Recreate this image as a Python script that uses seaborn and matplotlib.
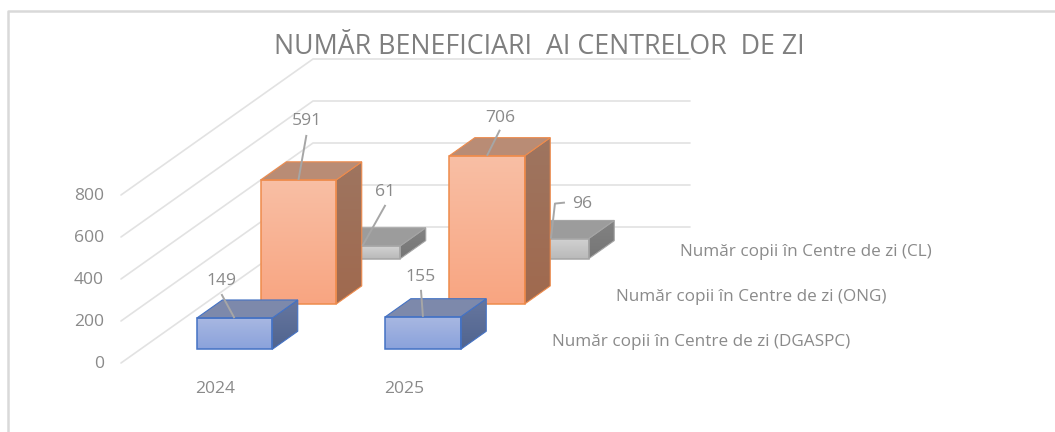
import numpy as np
import pandas as pd
import matplotlib
matplotlib.use('Agg')
import matplotlib.pyplot as plt
from matplotlib.colors import LinearSegmentedColormap
from matplotlib.patches import Polygon
import seaborn as sns

# date din grafic
years = ['2024', '2025']
series_names = ['Număr copii în Centre de zi (DGASPC)',
                'Număr copii în Centre de zi (ONG)',
                'Număr copii în Centre de zi (CL)']
dgaspc = [149, 155]
ong = [591, 706]
cl = [61, 96]
y_ticks = [0, 200, 400, 600, 800]

# geometria proiectiei oblice (pixeli)
W, H = 1055, 432
X0, Y0 = 121, H - 363
CAT_W = 188.5
DX, DY = 192, 136
K = 0.21
BAR_W = 0.4

# culori: fata sus, fata jos, capac, lateral sus, lateral jos, contur
styles = [
    ('#A9B8E2', '#8AA2DB', '#7D89AB', '#67779F', '#50648F', '#4472C4'),
    ('#F8BFA5', '#F9A581', '#B98C75', '#9E7560', '#A0694E', '#EE8B4C'),
    ('#D2D2D2', '#B9B9B9', '#9C9C9C', '#828282', '#767676', '#A5A5A5'),
]
GRID = '#E2E2E2'
TEXT = '#8A8A8A'
LEADER = '#A6A6A6'

# capatul etichetei fata de mijlocul barei (frange, text)
label_offsets = {
    (0, 0): ([(-13, 24)], (-13, 37)),
    (0, 1): ([(8, 45)], (8, 59)),
    (0, 2): ([(23, 41)], (23, 54)),
    (1, 0): ([(-2, 27)], (-2, 40)),
    (1, 1): ([(13, 26)], (13, 38)),
    (1, 2): ([(4, 35), (14, 36)], (31, 35)),
}


def proj(cat, value, depth):
    return X0 + cat * CAT_W + depth * DX, Y0 + value * K + depth * DY


def gradient_poly(ax, pts, top, bottom, z):
    pts = np.array(pts)
    cmap = LinearSegmentedColormap.from_list('g', [top, bottom])
    im = ax.imshow(np.linspace(0, 1, 256)[:, None], cmap=cmap, aspect='auto',
                   extent=(pts[:, 0].min(), pts[:, 0].max(), pts[:, 1].min(), pts[:, 1].max()),
                   zorder=z, interpolation='bilinear')
    clip = Polygon(pts, closed=True, transform=ax.transData)
    im.set_clip_path(clip)


sns.set_theme(style='white')
plt.rcParams['font.family'] = ['Open Sans', 'DejaVu Sans']

fig = plt.figure(figsize=(W / 100, H / 100), dpi=100)
ax = fig.add_axes([0, 0, 1, 1])

# grila
for v in y_ticks:
    xs, ys = zip(proj(0, v, 0), proj(0, v, 1), proj(2, v, 1))
    ax.plot(xs, ys, color=GRID, lw=1.2, zorder=1)
    px, py = proj(0, v, 0)
    ax.text(px - 17, py - 0.5, str(v), ha='right', va='center', color=TEXT, fontsize=12.6, zorder=30)

for i, year in enumerate(years):
    px, py = proj(i + 0.5, 0, 0)
    ax.text(px, py - 26, year, ha='center', va='center', color=TEXT, fontsize=12.6, zorder=30)

all_values = [dgaspc, ong, cl]
anchors = {}

# de la spate la fata
for s in [2, 1, 0]:
    values = all_values[s]
    st = styles[s]
    d0 = (s + 0.3) / 3
    d1 = (s + 0.7) / 3
    base = 10 + (2 - s) * 5
    df = pd.DataFrame({'pos': [proj(i + 0.5, 0, d0)[0] for i in range(len(years))],
                       'height': [v * K for v in values]})
    n_before = len(ax.patches)
    sns.barplot(data=df, x='pos', y='height', native_scale=True, width=BAR_W, errorbar=None,
                bottom=proj(0, 0, d0)[1], ax=ax, fill=False, edgecolor=st[5], linewidth=1.1)
    for p in ax.patches[n_before:]:
        p.set_zorder(base + 2)
    for i, v in enumerate(values):
        l, r = i + 0.3, i + 0.7
        gradient_poly(ax, [proj(l, 0, d0), proj(r, 0, d0), proj(r, v, d0), proj(l, v, d0)], st[0], st[1], base)
        # lateral
        side = [proj(r, 0, d0), proj(r, 0, d1), proj(r, v, d1), proj(r, v, d0)]
        gradient_poly(ax, side, st[3], st[4], base)
        ax.add_patch(Polygon(side, closed=True, fc='none', ec=st[5], lw=0.8, zorder=base + 1))
        # capac
        ax.add_patch(Polygon([proj(l, v, d0), proj(r, v, d0), proj(r, v, d1), proj(l, v, d1)],
                             closed=True, fc=st[2], ec=st[5], lw=0.8, zorder=base + 1))
        anchors[(i, s)] = (proj(i + 0.5, v, d0), v)
    # numele seriei
    px, py = proj(2, 0, d0)
    ax.text(px + 35, py + 7, series_names[s], ha='left', va='center', color=TEXT, fontsize=12.3, zorder=30)

# etichete de date cu linii de legatura
for key, (anchor, v) in anchors.items():
    bends, text_off = label_offsets[key]
    pts = [anchor] + [(anchor[0] + a, anchor[1] + b) for a, b in bends]
    ax.plot(*zip(*pts), color=LEADER, lw=1.4, zorder=28, solid_capstyle='butt')
    ax.text(anchor[0] + text_off[0], anchor[1] + text_off[1], str(v), ha='center', va='center',
            color=TEXT, fontsize=12.6, zorder=30)

# chenarul graficului
ax.plot([8, 8, W + 5], [-5, H - 11, H - 11], color='#D9D9D9', lw=1.8, zorder=2)

ax.text(539, H - 47, 'NUMĂR BENEFICIARI  AI CENTRELOR  DE ZI', ha='center', va='center',
        color='#7F7F7F', fontsize=19.3, zorder=30)

ax.set_xlim(0, W)
ax.set_ylim(0, H)
ax.set_axis_off()
fig.savefig('out.png', dpi=100, facecolor='white')
